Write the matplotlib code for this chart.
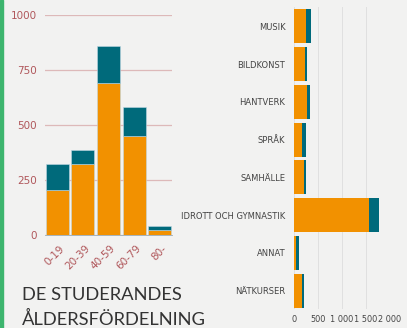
import numpy as np
import matplotlib.pyplot as plt

# Åldersgrupper (vänster diagram)
age_groups = ['0-19', '20-39', '40-59', '60-79', '80-']
age_orange = [205, 323, 691, 450, 23]
age_teal = [118, 63, 168, 132, 18]

# Ämnesområden (höger diagram)
subjects = ['MUSIK', 'BILDKONST', 'HANTVERK', 'SPRÅK', 'SAMHÄLLE',
            'IDROTT OCH GYMNASTIK', 'ANNAT', 'NÄTKURSER']
subj_orange = [249, 235, 277, 166, 215, 1564, 48, 180]
subj_teal = [104, 35, 62, 97, 34, 201, 56, 28]

ORANGE = '#F29100'
TEAL = '#006A7B'
RED = '#B0575B'
BG = '#F2F2F1'

W, H = 407, 328
fig = plt.figure(figsize=(W / 100, H / 100), dpi=100, facecolor=BG)

def px(x0, y0, x1, y1):
    # pixelkoordinater -> figurkoordinater
    return [x0 / W, 1 - y1 / H, (x1 - x0) / W, (y1 - y0) / H]

# grön kantlinje
fig.patches.append(plt.Rectangle((0, 0), 2.5 / W, 1, transform=fig.transFigure,
                                 color='#3DB56E', zorder=10))

# ---- vänster: åldersfördelning ----
ax1 = fig.add_axes(px(45, 15, 172, 235))
ax1.set_facecolor('none')
x = np.arange(len(age_groups))
ax1.bar(x, age_orange, width=0.9, color=ORANGE, edgecolor='#BFD7E3', linewidth=0.4, zorder=3)
ax1.bar(x, age_teal, bottom=age_orange, width=0.9, color=TEAL, edgecolor='#BFD7E3',
        linewidth=0.4, zorder=3)
ax1.set_xlim(-0.47, 4.47)
ax1.set_ylim(0, 1000)
ax1.set_yticks([0, 250, 500, 750, 1000])
ax1.yaxis.grid(True, color='#DDB9B9', linewidth=0.9, zorder=0)
for s in ['top', 'right', 'left']:
    ax1.spines[s].set_visible(False)
ax1.spines['bottom'].set_color('#9AA7B0')
ax1.spines['bottom'].set_linewidth(0.6)
ax1.tick_params(axis='y', length=0, pad=6, labelsize=7.5, labelcolor=RED)
ax1.tick_params(axis='x', length=0, pad=6, labelsize=7.5, labelcolor=RED)
ax1.set_xticks(x + 0.08)
ax1.set_xticklabels(age_groups, rotation=45, ha='right', rotation_mode='anchor')

fig.text(22 / W, 1 - 300 / H, 'DE STUDERANDES', fontsize=13.2, color='#333333',
         family='Lato', va='baseline')
fig.text(22 / W, 1 - 325 / H, 'ÅLDERSFÖRDELNING', fontsize=13.2, color='#333333',
         family='Lato', va='baseline')

# ---- höger: ämnesområden ----
ax2 = fig.add_axes(px(293.7, 7.4, 390, 309.4))
ax2.set_facecolor('none')
y = np.arange(len(subjects))
ax2.barh(y, subj_orange, height=0.9, color=ORANGE, zorder=3)
ax2.barh(y, subj_teal, left=subj_orange, height=0.9, color=TEAL, zorder=3)
ax2.set_ylim(len(subjects) - 0.5, -0.5)
ax2.set_xlim(0, 2000)
ax2.set_xticks([0, 500, 1000, 1500, 2000])
ax2.set_xticklabels(['0', '500', '1 000', '1 500', '2 000'])
ax2.set_yticks(y)
ax2.set_yticklabels(subjects)
ax2.xaxis.grid(True, color='#E0E0E0', linewidth=0.7, zorder=0)
for s in ax2.spines.values():
    s.set_visible(False)
ax2.tick_params(axis='y', length=0, pad=6, labelsize=6, labelcolor='#444444')
ax2.tick_params(axis='x', length=0, pad=4, labelsize=5.9, labelcolor='#444444')

fig.savefig('out.png', dpi=100, facecolor=BG)
